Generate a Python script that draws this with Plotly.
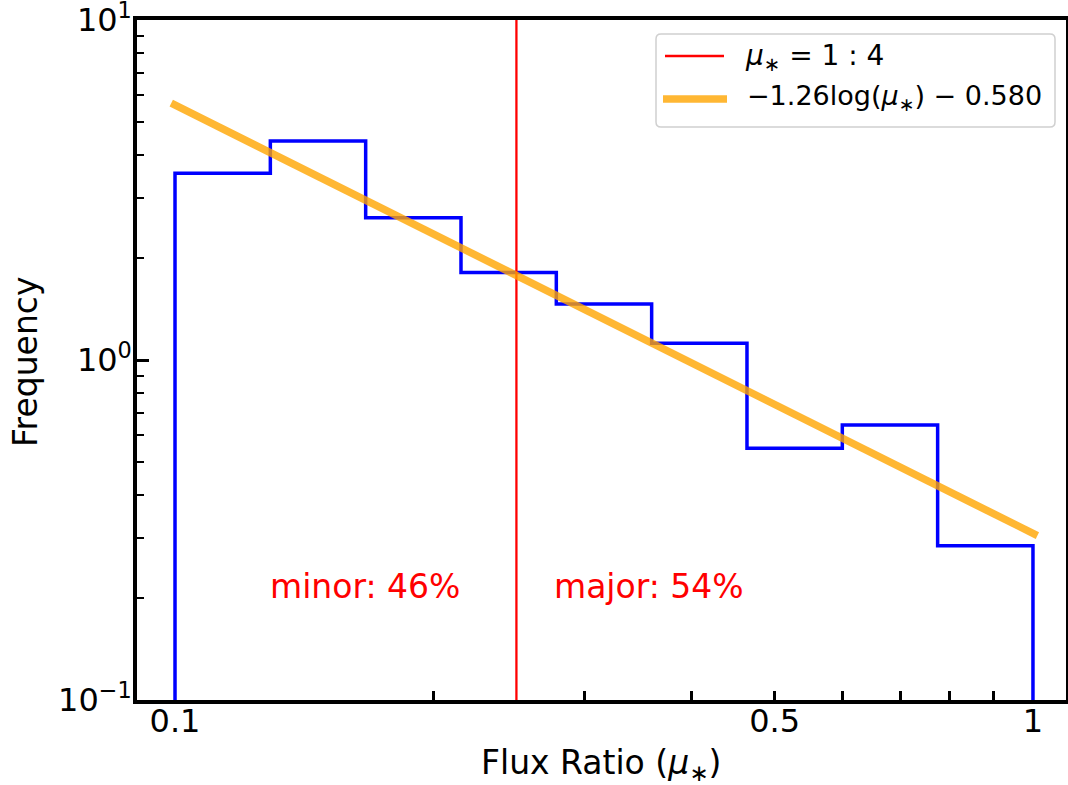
import numpy as np
import plotly.graph_objects as go

# Histogram of flux ratios: 9 log-spaced bins between 0.1 and 1
bin_edges = np.logspace(-1, 0, 10)
frequency = [3.54, 4.41, 2.62, 1.81, 1.46, 1.12, 0.55, 0.644, 0.284]

# Power-law fit drawn over the histogram
fit_slope = -1.26
fit_offset = -0.51
fit_mu = np.array([0.099, 1.012])

# Major/minor division
mu_split = 0.25
minor_label = "minor: 46%"
major_label = "major: 54%"

x_tick_vals = [0.1, 0.5, 1]
x_tick_text = ["0.1", "0.5", "1"]
y_tick_vals = [0.1, 1, 10]
y_tick_text = ["10<sup>\u22121</sup>", "10<sup>0</sup>", "10<sup>1</sup>"]

FONT = "DejaVu Sans"
W, H = 1068, 785
L, R, T, B = 137, 2, 20, 85
PW, PH = W - L - R, H - T - B


def px(xp):
    return (xp - L) / PW


def py(yp):
    return (H - B - yp) / PH


# step outline of the histogram, dropping to below the axis at both ends
floor = 1e-3
hx, hy = [bin_edges[0]], [floor]
for i, f in enumerate(frequency):
    hx += [bin_edges[i], bin_edges[i + 1]]
    hy += [f, f]
hx.append(bin_edges[-1])
hy.append(floor)

fit_y = 10 ** (fit_slope * np.log10(fit_mu) + fit_offset)

fig = go.Figure()
fig.add_trace(go.Scatter(x=hx, y=hy, mode="lines",
                         line=dict(color="#0000ff", width=3.5), showlegend=False))
fig.add_trace(go.Scatter(x=[mu_split, mu_split], y=[0.1, 10], mode="lines",
                         line=dict(color="#ff0000", width=2.3), showlegend=False))
fig.add_trace(go.Scatter(x=fit_mu, y=fit_y, mode="lines",
                         line=dict(color="rgba(255,165,0,0.8)", width=7.5),
                         showlegend=False))

axis_common = dict(showline=True, linecolor="black", linewidth=3.5, mirror=True,
                   showgrid=False, zeroline=False, ticklabeloverflow="allow",
                   automargin=False,
                   tickfont=dict(family=FONT, size=32, color="black"))

fig.update_xaxes(type="log", range=[-1.0443, 0.0385],
                 tickmode="array", tickvals=x_tick_vals, ticktext=x_tick_text,
                 ticks="", ticklabelstandoff=-10,
                 minor=dict(tickmode="array",
                            tickvals=[0.2, 0.3, 0.4, 0.5, 0.6, 0.7, 0.8, 0.9],
                            ticks="inside", ticklen=9, tickwidth=2.5,
                            tickcolor="black"),
                 **axis_common)
fig.update_yaxes(type="log", range=[-1, 1],
                 tickmode="array", tickvals=y_tick_vals, ticktext=y_tick_text,
                 ticks="inside", ticklen=12, tickwidth=2.5, tickcolor="black",
                 ticklabelstandoff=-5,
                 minor=dict(tickmode="array",
                            tickvals=[k * 10.0 ** e for e in (-1, 0) for k in range(2, 10)],
                            ticks="inside", ticklen=7, tickwidth=2,
                            tickcolor="black"),
                 **axis_common)

annotations = [
    dict(text="Flux Ratio (<i>\u03bc</i><sub>\u2217</sub>)", xref="paper", yref="paper",
         x=px(601), y=py(764), xanchor="center", yanchor="middle", showarrow=False,
         font=dict(family=FONT, size=33, color="black")),
    dict(text="Frequency", xref="paper", yref="paper", x=px(25), y=py(362),
         xanchor="center", yanchor="middle", textangle=-90, showarrow=False,
         font=dict(family=FONT, size=33, color="black")),
    dict(text=minor_label, xref="x", yref="y", x=np.log10(0.1665), y=np.log10(0.215),
         xanchor="center", yanchor="middle", showarrow=False,
         font=dict(family=FONT, size=33, color="#ff0000")),
    dict(text=major_label, xref="x", yref="y", x=np.log10(0.357), y=np.log10(0.215),
         xanchor="center", yanchor="middle", showarrow=False,
         font=dict(family=FONT, size=33, color="#ff0000")),
]

# legend box with rounded corners
x0, x1, y0, y1 = px(656), px(1055), py(34), py(127)
rx, ry = 5 / PW, 5 / PH
path = (f"M {x0 + rx},{y0} L {x1 - rx},{y0} Q {x1},{y0} {x1},{y0 - ry} "
        f"L {x1},{y1 + ry} Q {x1},{y1} {x1 - rx},{y1} L {x0 + rx},{y1} "
        f"Q {x0},{y1} {x0},{y1 + ry} L {x0},{y0 - ry} Q {x0},{y0} {x0 + rx},{y0} Z")
shapes = [
    dict(type="path", path=path, xref="paper", yref="paper", layer="above",
         fillcolor="rgba(255,255,255,0.8)", line=dict(color="#d0d0d0", width=1.5)),
    dict(type="line", xref="paper", yref="paper", layer="above",
         x0=px(665), x1=px(724), y0=py(56), y1=py(56),
         line=dict(color="#ff0000", width=2.3)),
    dict(type="line", xref="paper", yref="paper", layer="above",
         x0=px(663), x1=px(727), y0=py(99), y1=py(99),
         line=dict(color="rgba(255,165,0,0.8)", width=7.5)),
]
annotations += [
    dict(text="<i>\u03bc</i><sub>\u2217</sub> = 1 : 4", xref="paper", yref="paper",
         x=px(743), y=py(57), xanchor="left", yanchor="middle", showarrow=False,
         font=dict(family=FONT, size=28, color="black")),
    dict(text="\u22121.26log(<i>\u03bc</i><sub>\u2217</sub>) \u2212 0.580",
         xref="paper", yref="paper",
         x=px(745), y=py(97), xanchor="left", yanchor="middle", showarrow=False,
         font=dict(family=FONT, size=27, color="black")),
]

fig.update_layout(width=W, height=H, autosize=False,
                  margin=dict(l=L, r=R, t=T, b=B, autoexpand=False),
                  paper_bgcolor="white", plot_bgcolor="white",
                  annotations=annotations, shapes=shapes, showlegend=False)

fig.write_html("out.html")
